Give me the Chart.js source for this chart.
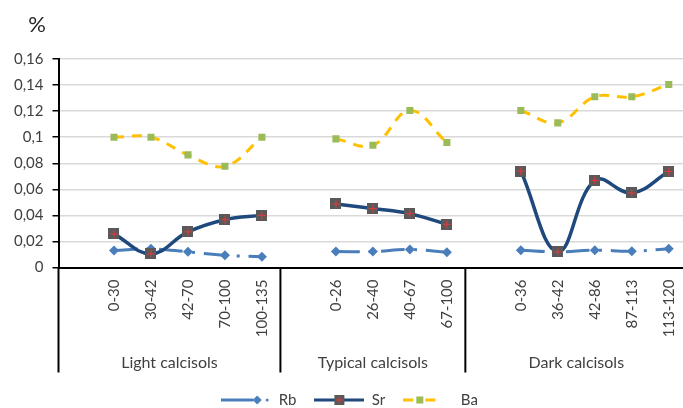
<!DOCTYPE html>
<html>
<head>
<meta charset="utf-8">
<script src="https://cdn.jsdelivr.net/npm/chart.js@4.4.0/dist/chart.umd.min.js"></script>
<style>
  html, body { margin: 0; padding: 0; background: #fff; overflow: hidden; }
  /* a bit wider than the window: the excel plot area runs past the right edge of the picture */
  #wrap { width: 699px; height: 408px; }
</style>
</head>
<body>
<div id="wrap"><canvas id="chart"></canvas></div>
<script>
// depth intervals (cm) per soil group, each group starts with an empty slot (like the excel sheet)
const groupNames = ['Light calcisols', 'Typical calcisols', 'Dark calcisols'];
const lightDepths = ['0-30', '30-42', '42-70', '70-100', '100-135'];
const typicalDepths = ['0-26', '26-40', '40-67', '67-100'];
const darkDepths = ['0-36', '36-42', '42-86', '87-113', '113-120'];

const labels = [''].concat(lightDepths, [''], typicalDepths, [''], darkDepths);

// %, null = the empty slot between groups
const rbValues = [null, 0.013, 0.0143, 0.012, 0.0094, 0.0082,
                  null, 0.0122, 0.0122, 0.0138, 0.0117,
                  null, 0.0133, 0.012, 0.0133, 0.0125, 0.0143];
const srValues = [null, 0.0258, 0.0105, 0.0273, 0.0367, 0.040,
                  null, 0.0488, 0.0452, 0.0413, 0.0332,
                  null, 0.074, 0.012, 0.0669, 0.0572, 0.0737];
const baValues = [null, 0.1, 0.1, 0.0864, 0.0777, 0.1,
                  null, 0.0987, 0.0938, 0.1205, 0.0959,
                  null, 0.1205, 0.111, 0.131, 0.131, 0.1405];

const yMax = 0.16;
const yStep = 0.02;

const FONT = 'Lato';
const TEXT = '#404040';
const RB_COLOR = '#4a7ebb';
const SR_COLOR = '#1f497d';
const BA_COLOR = '#ffc000';
const BA_MARK = '#9bbb59';

function makeCanvas(w, h) {
    let c = document.createElement('canvas');
    c.width = w;
    c.height = h;
    return c;
}

function drawSrMark(ctx, cx, cy, s) {
    ctx.fillStyle = '#595959';
    ctx.fillRect(cx - s / 2, cy - s / 2, s, s);
    ctx.strokeStyle = '#e8383d';
    ctx.lineWidth = 1;
    ctx.beginPath();
    ctx.moveTo(cx, cy - s / 2 + 1.5);
    ctx.lineTo(cx, cy + s / 2 - 1.5);
    ctx.moveTo(cx - s / 2 + 1.5, cy);
    ctx.lineTo(cx + s / 2 - 1.5, cy);
    ctx.stroke();
}

// Sr marker: grey square with a red cross
let srPoint = makeCanvas(11, 11);
drawSrMark(srPoint.getContext('2d'), 5.5, 5.5, 11);

// legend samples
let rbLegend = makeCanvas(50, 12);
let c1 = rbLegend.getContext('2d');
c1.strokeStyle = RB_COLOR;
c1.lineWidth = 3;
c1.beginPath(); c1.moveTo(0, 6); c1.lineTo(32, 6); c1.stroke();
c1.fillStyle = RB_COLOR;
c1.beginPath(); c1.moveTo(36, 1.5); c1.lineTo(40.5, 6); c1.lineTo(36, 10.5); c1.lineTo(31.5, 6); c1.fill();
c1.beginPath(); c1.arc(46, 6, 1.5, 0, Math.PI * 2); c1.fill();

let srLegend = makeCanvas(50, 12);
let c2 = srLegend.getContext('2d');
c2.strokeStyle = SR_COLOR;
c2.lineWidth = 3;
c2.beginPath(); c2.moveTo(0, 6); c2.lineTo(50, 6); c2.stroke();
drawSrMark(c2, 25, 6, 10);

let baLegend = makeCanvas(50, 12);
let c3 = baLegend.getContext('2d');
c3.strokeStyle = BA_COLOR;
c3.lineWidth = 3;
c3.beginPath(); c3.moveTo(0, 6); c3.lineTo(10, 6); c3.moveTo(22, 6); c3.lineTo(32, 6); c3.stroke();
c3.fillStyle = BA_MARK;
c3.fillRect(13, 2.5, 7, 7);

const legendImages = [rbLegend, srLegend, baLegend];

// group labels + separators under the depth labels
const groupAxis = {
    id: 'groupAxis',
    afterDraw(chart) {
        const ctx = chart.ctx;
        const x = chart.scales.x;
        const half = (x.getPixelForValue(1) - x.getPixelForValue(0)) / 2;
        const top = x.top;
        let starts = [];
        labels.forEach((l, i) => { if (l === '') starts.push(i); });
        ctx.save();
        ctx.strokeStyle = '#000';
        ctx.lineWidth = 2;
        starts.forEach((s, g) => {
            const left = x.getPixelForValue(s) - half;
            const end = g + 1 < starts.length ? starts[g + 1] : labels.length;
            const right = x.getPixelForValue(end - 1) + half;
            ctx.beginPath();
            ctx.moveTo(left, top);
            ctx.lineTo(left, top + 105);
            ctx.stroke();
            ctx.fillStyle = TEXT;
            ctx.font = '16px ' + FONT;
            ctx.textAlign = 'center';
            ctx.textBaseline = 'middle';
            ctx.fillText(groupNames[g], (left + right) / 2, top + 95);
        });
        // unit label
        ctx.font = '22px ' + FONT;
        ctx.fillStyle = '#262626';
        ctx.textAlign = 'center';
        ctx.fillText('%', 37, 25);
        ctx.restore();
    }
};

Chart.defaults.font.family = FONT;
Chart.defaults.font.size = 15;
Chart.defaults.color = TEXT;

new Chart(document.getElementById('chart'), {
    type: 'line',
    data: {
        labels: labels,
        datasets: [
            {
                label: 'Rb',
                data: rbValues,
                borderColor: RB_COLOR,
                backgroundColor: RB_COLOR,
                borderWidth: 3,
                borderDash: [24, 9, 3, 9],
                pointStyle: 'rectRot',
                pointRadius: 5,
                pointBorderWidth: 0,
                tension: 0.4,
                order: 3
            },
            {
                label: 'Sr',
                data: srValues,
                borderColor: SR_COLOR,
                backgroundColor: SR_COLOR,
                borderWidth: 3.5,
                pointStyle: srPoint,
                tension: 0.4,
                order: 2
            },
            {
                label: 'Ba',
                data: baValues,
                borderColor: BA_COLOR,
                backgroundColor: BA_MARK,
                borderWidth: 3,
                borderDash: [10, 8],
                pointStyle: 'rect',
                pointRadius: 5,
                pointBorderWidth: 0,
                tension: 0.4,
                order: 1
            }
        ]
    },
    options: {
        responsive: true,
        maintainAspectRatio: false,
        animation: false,
        layout: { padding: { top: 59, left: 0, right: 0, bottom: -9.5 } },
        plugins: {
            tooltip: { enabled: false },
            legend: {
                position: 'bottom',
                labels: {
                    usePointStyle: true,
                    pointStyleWidth: 50,
                    padding: 18,
                    color: TEXT,
                    font: { size: 15 },
                    sort: (a, b) => a.datasetIndex - b.datasetIndex,
                    generateLabels: (chart) => {
                        let items = Chart.defaults.plugins.legend.labels.generateLabels(chart);
                        items.forEach(it => { it.pointStyle = legendImages[it.datasetIndex]; });
                        return items;
                    }
                }
            }
        },
        scales: {
            x: {
                offset: true,
                grid: { display: false, drawTicks: false },
                border: { color: '#000', width: 2 },
                ticks: {
                    autoSkip: false,
                    minRotation: 90,
                    maxRotation: 90,
                    padding: 12,
                    color: TEXT
                },
                afterFit: (scale) => { scale.height = 107; }
            },
            y: {
                min: 0,
                max: yMax,
                grid: { color: '#d9d9d9', lineWidth: 1.5, tickColor: '#000', tickLength: 6 },
                border: { color: '#000', width: 2 },
                ticks: {
                    stepSize: yStep,
                    padding: 9,
                    color: TEXT,
                    callback: (v) => String(Number(v.toFixed(2))).replace('.', ',')
                },
                afterFit: (scale) => { scale.width = 58.5; }
            }
        }
    },
    plugins: [groupAxis]
});
</script>
</body>
</html>
